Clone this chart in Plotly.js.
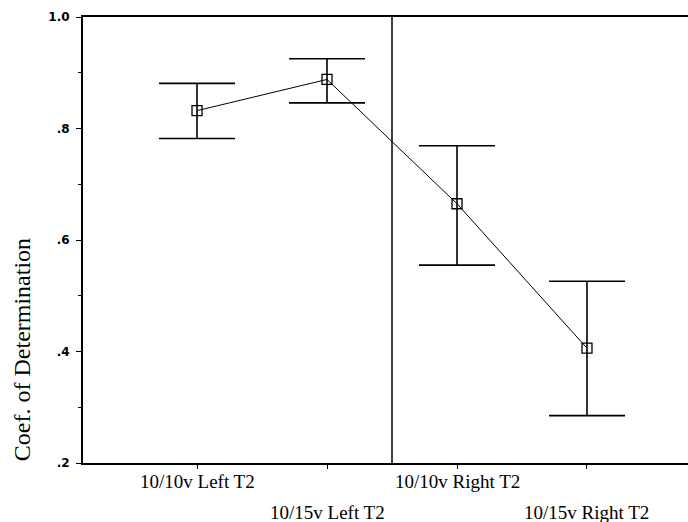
<!DOCTYPE html>
<html>
<head>
<meta charset="utf-8">
<script src="https://cdn.plot.ly/plotly-3.0.1.min.js"></script>
<style>html,body{margin:0;padding:0;background:#fff;}#chart{width:688px;height:522px;}</style>
</head>
<body>
<div id="chart"></div>
<script>
// Data
var categories = ["10/10v Left T2", "10/15v Left T2", "10/10v Right T2", "10/15v Right T2"];
var positions = [1, 2, 3, 4];
var coefValues = [0.832, 0.888, 0.665, 0.406];
var upperBounds = [0.881, 0.925, 0.769, 0.526];
var lowerBounds = [0.782, 0.846, 0.555, 0.285];
var yTickValues = [0.2, 0.4, 0.6, 0.8, 1.0];
var yTickLabels = [".2", ".4", ".6", ".8", "1.0"];
var yAxisTitle = "Coef. of Determination";
var dividerPosition = 2.5;

var errPlus = coefValues.map(function (v, i) { return upperBounds[i] - v; });
var errMinus = coefValues.map(function (v, i) { return v - lowerBounds[i]; });

var serif = 'Liberation Serif, Times New Roman, serif';

var trace = {
  x: positions,
  y: coefValues,
  type: 'scatter',
  mode: 'lines+markers',
  line: { color: '#000', width: 1 },
  marker: { symbol: 'square-open', size: 10, color: '#000', line: { width: 1.3, color: '#000' } },
  error_y: {
    type: 'data', symmetric: false,
    array: errPlus, arrayminus: errMinus,
    width: 38, thickness: 1.6, color: '#000'
  },
  hoverinfo: 'skip',
  showlegend: false
};

var labelRowY = [-0.042, -0.112];
var annotations = categories.map(function (c, i) {
  return {
    x: positions[i], xref: 'x',
    y: labelRowY[i % 2], yref: 'paper',
    text: c, showarrow: false,
    xanchor: 'center', yanchor: 'middle',
    font: { family: serif, size: 19, color: '#000' }
  };
});
annotations.push({
  x: 0, xref: 'paper', xshift: -61,
  y: 0.253, yref: 'paper',
  text: yAxisTitle, textangle: -90, showarrow: false,
  xanchor: 'center', yanchor: 'middle',
  font: { family: serif, size: 24, color: '#000' }
});

var layout = {
  width: 688, height: 522,
  margin: { l: 83, r: 0, t: 17, b: 59, pad: 0 },
  paper_bgcolor: '#fff', plot_bgcolor: '#fff',
  xaxis: {
    range: [0.123, 4.777],
    tickvals: positions, showticklabels: false,
    ticks: 'outside', ticklen: 4, tickwidth: 1, tickcolor: '#000',
    showline: true, linecolor: '#000', linewidth: 2, mirror: true,
    showgrid: false, zeroline: false, fixedrange: true
  },
  yaxis: {
    range: [0.2, 1.0],
    tickvals: yTickValues, ticktext: yTickLabels,
    ticks: 'outside', ticklen: 5, tickwidth: 1, tickcolor: '#000',
    minor: { dtick: 0.1, tick0: 0.2, ticks: 'outside', ticklen: 3, tickcolor: '#000', showgrid: false },
    tickfont: { family: 'DejaVu Sans, Arial, sans-serif', size: 12, color: '#000', weight: 'bold' },
    ticklabelstandoff: 4,
    showline: true, linecolor: '#000', linewidth: 2,
    showgrid: false, zeroline: false, fixedrange: true
  },
  shapes: [{
    type: 'line', xref: 'x', yref: 'paper',
    x0: dividerPosition, x1: dividerPosition, y0: 0, y1: 1,
    line: { color: '#000', width: 1.5 }
  }],
  annotations: annotations
};

Plotly.newPlot('chart', [trace], layout, { displayModeBar: false, staticPlot: true });
</script>
</body>
</html>
